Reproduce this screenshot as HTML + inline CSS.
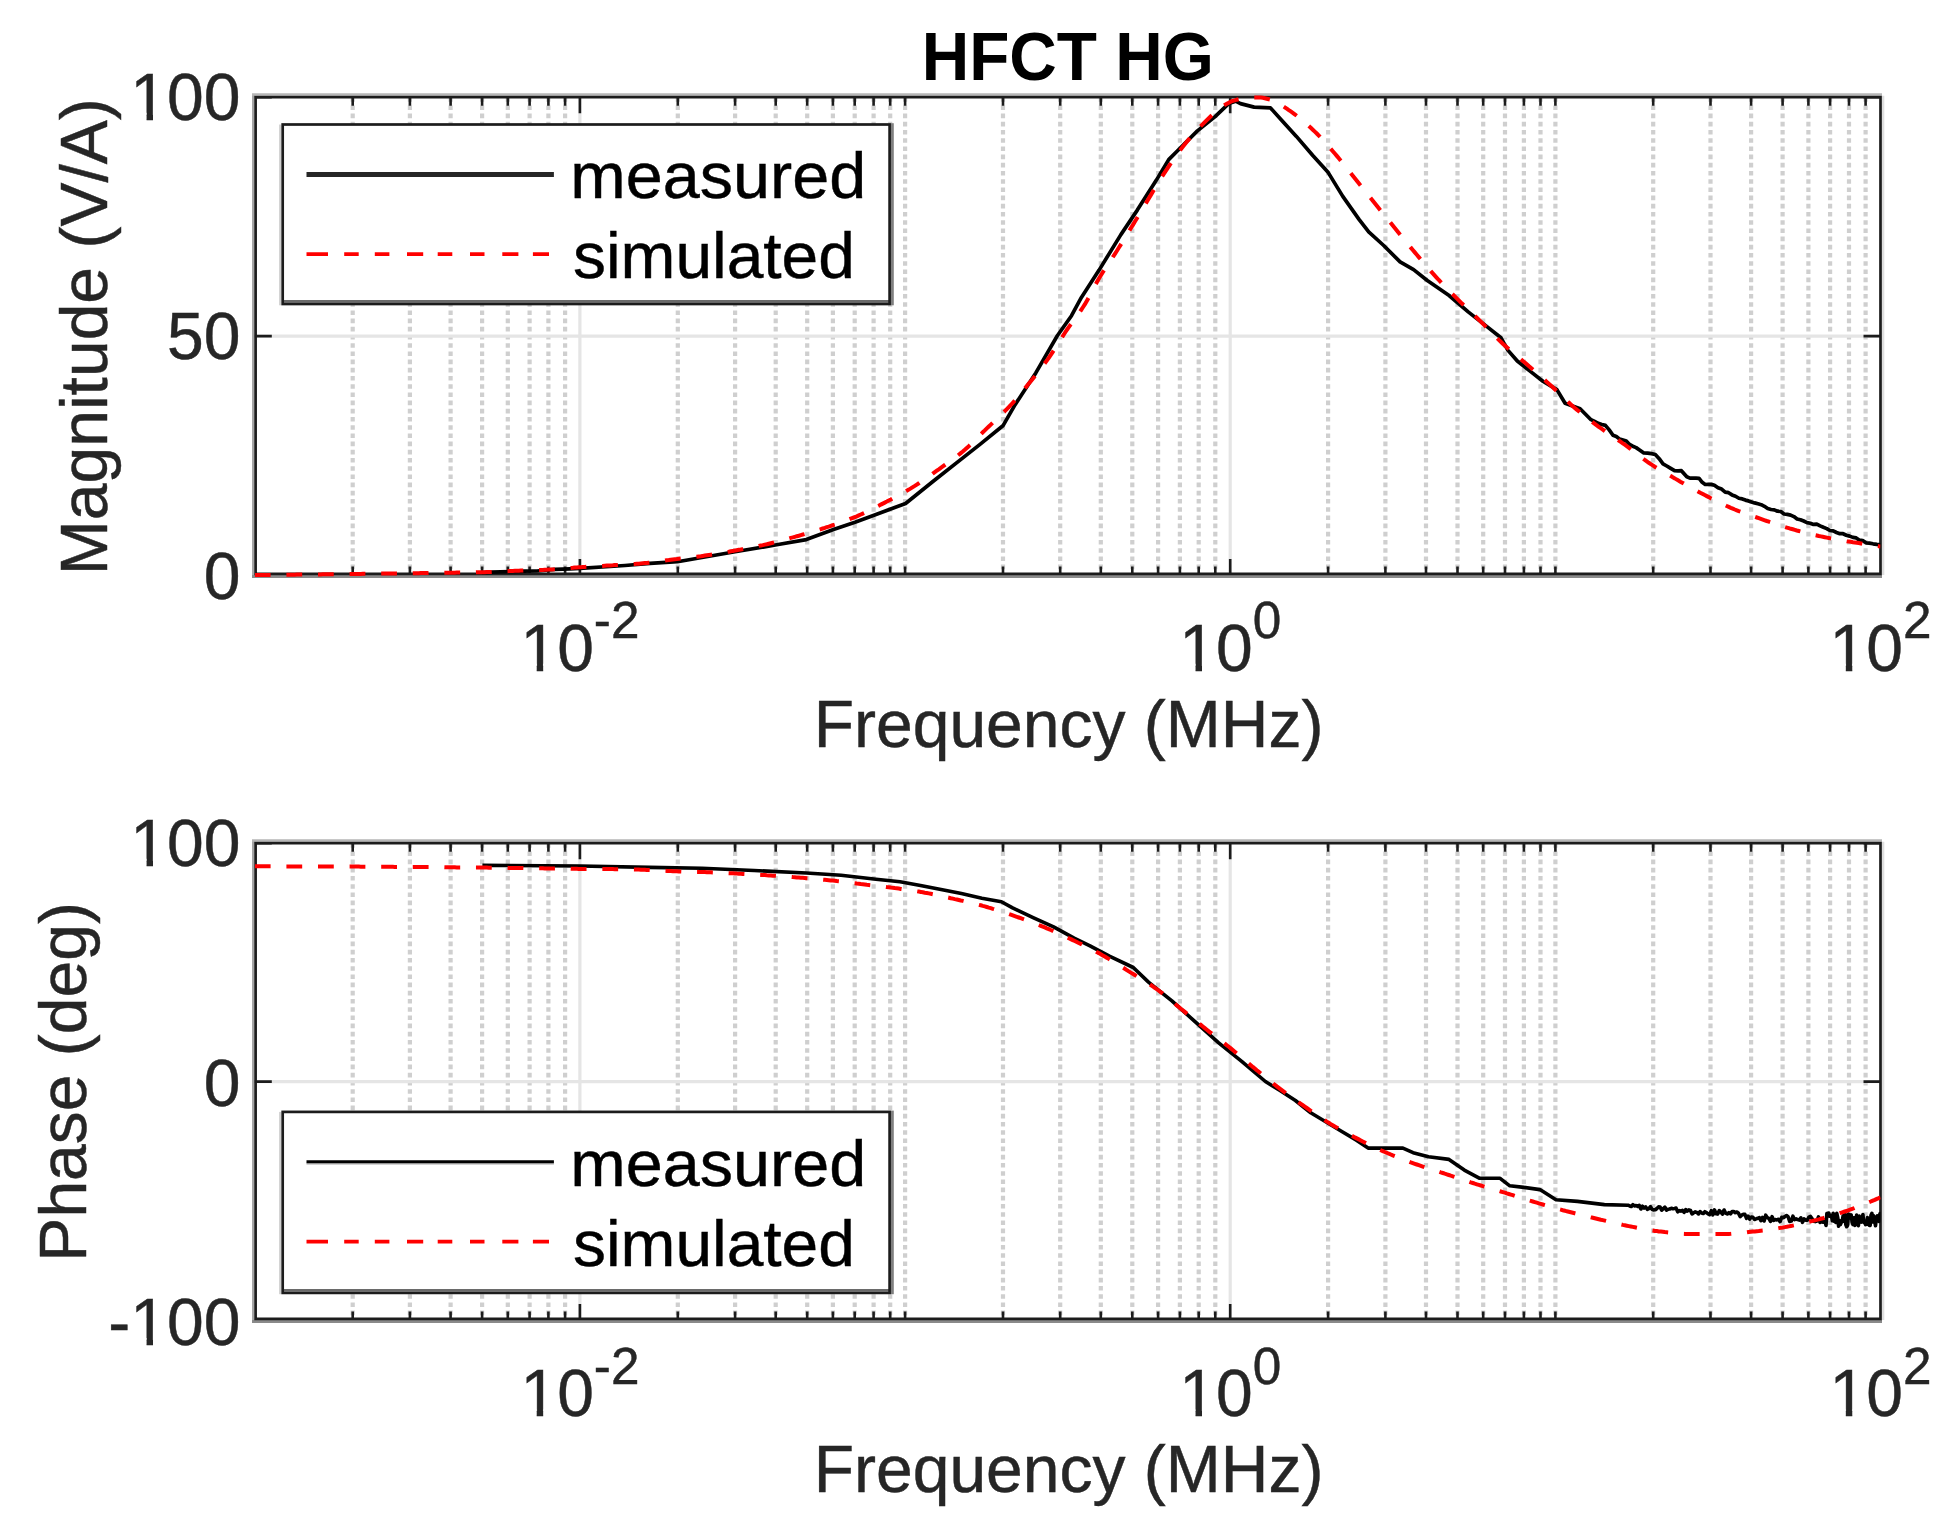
<!DOCTYPE html><html><head><meta charset="utf-8"><title>HFCT HG</title><style>html,body{margin:0;padding:0;background:#fff;}svg{display:block;}text{font-family:'Liberation Sans', Arial, Helvetica, sans-serif;stroke-width:0.45px;}</style></head><body>
<svg width="1953" height="1539" viewBox="0 0 1953 1539">
<rect width="1953" height="1539" fill="#fff"/>
<text x="921.70" y="80.4" font-size="68" font-weight="bold" fill="#000" textLength="292.28" lengthAdjust="spacingAndGlyphs">HFCT HG</text>
<path d="M352.7 97.2V575.0M409.9 97.2V575.0M450.6 97.2V575.0M482.1 97.2V575.0M507.8 97.2V575.0M529.6 97.2V575.0M548.4 97.2V575.0M565.1 97.2V575.0M677.8 97.2V575.0M735.1 97.2V575.0M775.7 97.2V575.0M807.2 97.2V575.0M832.9 97.2V575.0M854.7 97.2V575.0M873.6 97.2V575.0M890.2 97.2V575.0M905.1 97.2V575.0M1003.0 97.2V575.0M1060.2 97.2V575.0M1100.8 97.2V575.0M1132.3 97.2V575.0M1158.1 97.2V575.0M1179.9 97.2V575.0M1198.7 97.2V575.0M1215.3 97.2V575.0M1328.1 97.2V575.0M1385.4 97.2V575.0M1426.0 97.2V575.0M1457.5 97.2V575.0M1483.2 97.2V575.0M1505.0 97.2V575.0M1523.9 97.2V575.0M1540.5 97.2V575.0M1555.4 97.2V575.0M1653.2 97.2V575.0M1710.5 97.2V575.0M1751.1 97.2V575.0M1782.6 97.2V575.0M1808.4 97.2V575.0M1830.1 97.2V575.0M1849.0 97.2V575.0M1865.6 97.2V575.0" stroke="#cfcfcf" stroke-width="4.2" stroke-dasharray="4.6 3.6" fill="none"/>
<path d="M579.9 97.2V575.0M1230.2 97.2V575.0M254.8 336.1H1880.5" stroke="#e5e5e5" stroke-width="3.2" fill="none"/>
<path d="M352.7 575.0v-8.5M352.7 97.2v8.5M409.9 575.0v-8.5M409.9 97.2v8.5M450.6 575.0v-8.5M450.6 97.2v8.5M482.1 575.0v-8.5M482.1 97.2v8.5M507.8 575.0v-8.5M507.8 97.2v8.5M529.6 575.0v-8.5M529.6 97.2v8.5M548.4 575.0v-8.5M548.4 97.2v8.5M565.1 575.0v-8.5M565.1 97.2v8.5M579.9 575.0v-16M579.9 97.2v16M677.8 575.0v-8.5M677.8 97.2v8.5M735.1 575.0v-8.5M735.1 97.2v8.5M775.7 575.0v-8.5M775.7 97.2v8.5M807.2 575.0v-8.5M807.2 97.2v8.5M832.9 575.0v-8.5M832.9 97.2v8.5M854.7 575.0v-8.5M854.7 97.2v8.5M873.6 575.0v-8.5M873.6 97.2v8.5M890.2 575.0v-8.5M890.2 97.2v8.5M905.1 575.0v-8.5M905.1 97.2v8.5M1003.0 575.0v-8.5M1003.0 97.2v8.5M1060.2 575.0v-8.5M1060.2 97.2v8.5M1100.8 575.0v-8.5M1100.8 97.2v8.5M1132.3 575.0v-8.5M1132.3 97.2v8.5M1158.1 575.0v-8.5M1158.1 97.2v8.5M1179.9 575.0v-8.5M1179.9 97.2v8.5M1198.7 575.0v-8.5M1198.7 97.2v8.5M1215.3 575.0v-8.5M1215.3 97.2v8.5M1230.2 575.0v-16M1230.2 97.2v16M1328.1 575.0v-8.5M1328.1 97.2v8.5M1385.4 575.0v-8.5M1385.4 97.2v8.5M1426.0 575.0v-8.5M1426.0 97.2v8.5M1457.5 575.0v-8.5M1457.5 97.2v8.5M1483.2 575.0v-8.5M1483.2 97.2v8.5M1505.0 575.0v-8.5M1505.0 97.2v8.5M1523.9 575.0v-8.5M1523.9 97.2v8.5M1540.5 575.0v-8.5M1540.5 97.2v8.5M1555.4 575.0v-8.5M1555.4 97.2v8.5M1653.2 575.0v-8.5M1653.2 97.2v8.5M1710.5 575.0v-8.5M1710.5 97.2v8.5M1751.1 575.0v-8.5M1751.1 97.2v8.5M1782.6 575.0v-8.5M1782.6 97.2v8.5M1808.4 575.0v-8.5M1808.4 97.2v8.5M1830.1 575.0v-8.5M1830.1 97.2v8.5M1849.0 575.0v-8.5M1849.0 97.2v8.5M1865.6 575.0v-8.5M1865.6 97.2v8.5M254.8 575.0h17M1880.5 575.0h-17M254.8 336.1h17M1880.5 336.1h-17M254.8 97.2h17M1880.5 97.2h-17" stroke="#1c1c1c" stroke-width="2.6" fill="none"/>
<path d="M253.2 94.5V576.5" stroke="#a6a6a6" stroke-width="2.4" fill="none"/>
<path d="M252 94.5H1882" stroke="#b6b6b6" stroke-width="2.6" fill="none"/>
<path d="M252 576.5H1882" stroke="#8a8a8a" stroke-width="2.8" fill="none"/>
<path d="M1883.1 95.8V575.1" stroke="#dedede" stroke-width="2.4" fill="none"/>
<path d="M255.6 97.2H1880.5V573.9H255.6Z" fill="none" stroke="#1c1c1c" stroke-width="2.7"/>
<clipPath id="c0"><rect x="254.8" y="94.2" width="1625.7" height="483.8"/></clipPath>
<g clip-path="url(#c0)">
<polyline points="482.0,572.6 491.0,572.2 524.0,571.1 537.0,571.0 555.0,569.3 570.0,568.8 580.0,568.3 625.0,565.5 650.0,563.4 677.5,561.7 735.0,551.8 776.7,544.8 806.3,539.6 834.2,529.2 855.0,522.2 876.0,514.4 905.6,503.5 932.9,481.5 960.0,460.1 980.0,444.4 1002.9,425.8 1014.4,405.8 1035.8,372.9 1057.3,335.8 1071.5,315.7 1081.4,297.4 1099.1,270.1 1120.9,234.6 1137.3,210.1 1156.4,180.1 1168.7,159.6 1178.3,150.0 1197.4,130.9 1215.1,116.6 1228.7,103.6 1235.6,101.2 1240.5,103.6 1254.1,107.1 1270.5,107.9 1281.4,120.0 1296.4,136.4 1312.8,155.5 1327.8,171.9 1342.8,196.4 1359.2,219.6 1368.7,231.9 1383.7,245.5 1400.1,261.9 1413.6,269.6 1427.3,280.5 1449.1,295.5 1468.2,311.9 1487.3,326.9 1501.0,337.8 1507.8,350.1 1517.3,361.0 1531.0,371.9 1543.2,381.5 1556.9,389.6 1565.1,403.3 1580.1,408.7 1591.0,419.7 1594.6,421.4 1598.2,423.3 1601.8,424.5 1605.4,425.4 1609.2,429.9 1613.0,435.3 1616.3,436.5 1619.7,439.1 1623.0,440.0 1626.3,441.0 1629.5,444.4 1632.8,446.2 1636.1,447.6 1639.9,450.2 1643.8,453.0 1647.6,453.1 1651.5,453.6 1655.3,454.5 1659.2,458.7 1663.0,463.8 1666.8,466.0 1670.7,468.4 1674.5,470.7 1678.0,470.8 1681.4,470.7 1686.8,476.8 1689.9,478.1 1692.9,478.1 1696.0,478.2 1699.1,478.4 1702.2,482.3 1705.2,484.5 1708.3,484.3 1711.3,484.4 1714.4,485.3 1718.0,487.8 1721.6,489.1 1725.2,492.2 1728.6,492.7 1732.0,494.9 1735.5,496.2 1738.9,498.3 1742.3,498.9 1745.4,500.1 1748.4,500.9 1751.5,501.9 1754.6,502.9 1757.9,503.8 1761.2,504.7 1764.4,506.3 1767.7,508.5 1771.0,509.5 1774.3,509.9 1777.5,511.2 1780.8,511.5 1784.0,514.0 1787.3,514.4 1790.6,515.1 1793.9,516.6 1797.1,519.0 1800.4,519.7 1803.7,521.0 1807.0,522.6 1810.3,523.2 1813.5,524.4 1816.8,524.2 1820.1,525.9 1823.4,527.3 1826.7,528.6 1829.9,530.5 1833.2,530.9 1836.5,532.5 1839.8,533.7 1843.1,533.7 1846.3,535.2 1849.6,536.1 1852.9,537.4 1856.2,537.9 1859.5,540.2 1862.7,540.6 1866.0,542.8 1869.3,543.1 1873.0,543.8 1876.8,544.4 1880.5,544.8" fill="none" stroke="#000" stroke-width="3.7" stroke-linejoin="round"/>
<polyline points="254.8,575.0 256.8,575.0 258.8,575.0 260.8,575.0 262.8,574.9 264.8,574.9 266.8,574.9 268.8,574.9 270.8,574.9 272.8,574.9 274.8,574.8 276.8,574.8 278.8,574.8 280.8,574.8 282.8,574.8 284.8,574.7 286.8,574.7 288.8,574.7 290.8,574.7 292.8,574.7 294.8,574.7 296.8,574.6 298.8,574.6 300.8,574.6 302.8,574.6 304.8,574.5 306.8,574.5 308.8,574.5 310.8,574.5 312.8,574.5 314.8,574.4 316.8,574.4 318.8,574.4 320.8,574.4 322.8,574.3 324.8,574.3 326.8,574.3 328.8,574.3 330.8,574.2 332.8,574.2 334.8,574.2 336.8,574.2 338.8,574.1 340.8,574.1 342.8,574.1 344.8,574.1 346.8,574.0 348.8,574.0 350.8,574.0 352.8,574.0 354.8,573.9 356.8,573.9 358.8,573.9 360.8,573.9 362.8,573.8 364.8,573.8 366.8,573.8 368.8,573.8 370.8,573.8 372.8,573.7 374.8,573.7 376.8,573.7 378.8,573.7 380.8,573.6 382.8,573.6 384.8,573.6 386.8,573.6 388.8,573.5 390.8,573.5 392.8,573.5 394.8,573.5 396.8,573.4 398.8,573.4 400.8,573.4 402.8,573.4 404.8,573.3 406.8,573.3 408.8,573.3 410.8,573.3 412.8,573.2 414.8,573.2 416.8,573.2 418.8,573.2 420.8,573.1 422.8,573.1 424.8,573.1 426.8,573.1 428.8,573.0 430.8,573.0 432.8,573.0 434.8,572.9 436.8,572.9 438.8,572.9 440.8,572.9 442.8,572.8 444.8,572.8 446.8,572.8 448.8,572.7 450.8,572.7 452.8,572.7 454.8,572.7 456.8,572.6 458.8,572.6 460.8,572.6 462.8,572.6 464.8,572.5 466.8,572.5 468.8,572.5 470.8,572.4 472.8,572.4 474.8,572.4 476.8,572.3 478.8,572.3 480.8,572.2 482.8,572.2 484.8,572.2 486.8,572.1 488.8,572.0 490.8,572.0 492.8,571.9 494.8,571.8 496.8,571.7 498.8,571.6 500.8,571.5 502.8,571.4 504.8,571.3 506.8,571.2 508.8,571.1 510.8,571.0 512.8,570.9 514.8,570.8 516.8,570.8 518.8,570.7 520.8,570.6 522.8,570.6 524.8,570.5 526.8,570.4 528.8,570.4 530.8,570.3 532.8,570.2 534.8,570.2 536.8,570.1 538.8,570.0 540.8,570.0 542.8,569.9 544.8,569.8 546.8,569.7 548.8,569.6 550.8,569.5 552.8,569.4 554.8,569.2 556.8,569.1 558.8,568.9 560.8,568.8 562.8,568.6 564.8,568.4 566.8,568.3 568.8,568.1 570.8,567.9 572.8,567.8 574.8,567.6 576.8,567.5 578.8,567.3 580.8,567.2 582.8,567.1 584.8,567.0 586.8,566.8 588.8,566.7 590.8,566.6 592.8,566.5 594.8,566.3 596.8,566.2 598.8,566.1 600.8,566.0 602.8,565.9 604.8,565.7 606.8,565.6 608.8,565.5 610.8,565.4 612.8,565.3 614.8,565.1 616.8,565.0 618.8,564.9 620.8,564.8 622.8,564.7 624.8,564.6 626.8,564.5 628.8,564.4 630.8,564.2 632.8,564.1 634.8,564.0 636.8,563.8 638.8,563.7 640.8,563.5 642.8,563.3 644.8,563.1 646.8,562.9 648.8,562.7 650.8,562.5 652.8,562.2 654.8,561.9 656.8,561.7 658.8,561.4 660.8,561.1 662.8,560.8 664.8,560.5 666.8,560.2 668.8,560.0 670.8,559.7 672.8,559.4 674.8,559.2 676.8,559.0 678.8,558.7 680.8,558.5 682.8,558.3 684.8,558.1 686.8,557.8 688.8,557.6 690.8,557.4 692.8,557.2 694.8,556.9 696.8,556.7 698.8,556.4 700.8,556.2 702.8,555.9 704.8,555.6 706.8,555.3 708.8,555.0 710.8,554.7 712.8,554.4 714.8,554.1 716.8,553.8 718.8,553.4 720.8,553.1 722.8,552.7 724.8,552.4 726.8,552.0 728.8,551.7 730.8,551.3 732.8,550.9 734.8,550.6 736.8,550.2 738.8,549.8 740.8,549.5 742.8,549.1 744.8,548.7 746.8,548.3 748.8,548.0 750.8,547.6 752.8,547.2 754.8,546.8 756.8,546.4 758.8,545.9 760.8,545.5 762.8,545.1 764.8,544.6 766.8,544.2 768.8,543.7 770.8,543.2 772.8,542.7 774.8,542.2 776.8,541.7 778.8,541.2 780.8,540.7 782.8,540.1 784.8,539.6 786.8,539.0 788.8,538.5 790.8,537.9 792.8,537.4 794.8,536.8 796.8,536.2 798.8,535.7 800.8,535.1 802.8,534.5 804.8,534.0 806.8,533.4 808.8,532.8 810.8,532.2 812.8,531.6 814.8,531.0 816.8,530.4 818.8,529.8 820.8,529.2 822.8,528.5 824.8,527.9 826.8,527.2 828.8,526.6 830.8,525.9 832.8,525.2 834.8,524.6 836.8,523.9 838.8,523.2 840.8,522.5 842.8,521.7 844.8,521.0 846.8,520.2 848.8,519.5 850.8,518.7 852.8,517.9 854.8,517.1 856.8,516.3 858.8,515.4 860.8,514.5 862.8,513.6 864.8,512.7 866.8,511.7 868.8,510.7 870.8,509.7 872.8,508.7 874.8,507.7 876.8,506.7 878.8,505.7 880.8,504.6 882.8,503.6 884.8,502.6 886.8,501.6 888.8,500.5 890.8,499.5 892.8,498.4 894.8,497.4 896.8,496.3 898.8,495.2 900.8,494.1 902.8,493.0 904.8,491.9 906.8,490.7 908.8,489.6 910.8,488.4 912.8,487.1 914.8,485.9 916.8,484.6 918.8,483.3 920.8,481.9 922.8,480.6 924.8,479.2 926.8,477.8 928.8,476.4 930.8,475.0 932.8,473.5 934.8,472.1 936.8,470.7 938.8,469.3 940.8,467.8 942.8,466.4 944.8,465.0 946.8,463.6 948.8,462.2 950.8,460.7 952.8,459.3 954.8,457.8 956.8,456.3 958.8,454.7 960.8,453.1 962.8,451.5 964.8,449.8 966.8,448.0 968.8,446.2 970.8,444.3 972.8,442.3 974.8,440.4 976.8,438.4 978.8,436.4 980.8,434.3 982.8,432.3 984.8,430.4 986.8,428.4 988.8,426.5 990.8,424.6 992.8,422.7 994.8,420.8 996.8,419.0 998.8,417.1 1000.8,415.2 1002.8,413.2 1004.8,411.2 1006.8,409.2 1008.8,407.1 1010.8,405.0 1012.8,402.8 1014.8,400.5 1016.8,398.2 1018.8,395.8 1020.8,393.4 1022.8,391.0 1024.8,388.6 1026.8,386.1 1028.8,383.6 1030.8,381.2 1032.8,378.7 1034.8,376.2 1036.8,373.7 1038.8,371.1 1040.8,368.6 1042.8,365.9 1044.8,363.3 1046.8,360.6 1048.8,357.8 1050.8,354.9 1052.8,351.8 1054.8,348.7 1056.8,345.6 1058.8,342.4 1060.8,339.2 1062.8,336.1 1064.8,333.0 1066.8,330.0 1068.8,327.2 1070.8,324.4 1072.8,321.7 1074.8,318.9 1076.8,316.2 1078.8,313.4 1080.8,310.5 1082.8,307.5 1084.8,304.4 1086.8,300.9 1088.8,297.3 1090.8,293.6 1092.8,289.8 1094.8,286.0 1096.8,282.3 1098.8,278.8 1100.8,275.5 1102.8,272.3 1104.8,269.2 1106.8,266.2 1108.8,263.2 1110.8,260.2 1112.8,257.2 1114.8,254.1 1116.8,251.0 1118.8,247.8 1120.8,244.6 1122.8,241.4 1124.8,238.2 1126.8,234.9 1128.8,231.6 1130.8,228.3 1132.8,225.1 1134.8,221.8 1136.8,218.4 1138.8,215.1 1140.8,211.8 1142.8,208.4 1144.8,205.1 1146.8,201.7 1148.8,198.4 1150.8,195.1 1152.8,191.8 1154.8,188.5 1156.8,185.2 1158.8,181.9 1160.8,178.6 1162.8,175.4 1164.8,172.3 1166.8,169.3 1168.8,166.3 1170.8,163.4 1172.8,160.5 1174.8,157.6 1176.8,154.8 1178.8,152.1 1180.8,149.4 1182.8,146.8 1184.8,144.3 1186.8,141.8 1188.8,139.4 1190.8,137.1 1192.8,134.8 1194.8,132.5 1196.8,130.3 1198.8,128.2 1200.8,126.1 1202.8,124.1 1204.8,122.1 1206.8,120.1 1208.8,118.2 1210.8,116.3 1212.8,114.4 1214.8,112.5 1216.8,110.7 1218.8,109.1 1220.8,107.5 1222.8,106.1 1224.8,104.9 1226.8,103.7 1228.8,102.7 1230.8,101.7 1232.8,100.9 1234.8,100.3 1236.8,99.7 1238.8,99.2 1240.8,98.8 1242.8,98.4 1244.8,98.1 1246.8,97.9 1248.8,97.7 1250.8,97.6 1252.8,97.5 1254.8,97.5 1256.8,97.4 1258.8,97.4 1260.8,97.6 1262.8,97.8 1264.8,98.2 1266.8,98.7 1268.8,99.2 1270.8,99.7 1272.8,100.4 1274.8,101.3 1276.8,102.3 1278.8,103.4 1280.8,104.6 1282.8,106.0 1284.8,107.3 1286.8,108.7 1288.8,110.1 1290.8,111.4 1292.8,112.8 1294.8,114.3 1296.8,115.8 1298.8,117.4 1300.8,119.0 1302.8,120.7 1304.8,122.4 1306.8,124.2 1308.8,126.0 1310.8,127.8 1312.8,129.7 1314.8,131.6 1316.8,133.5 1318.8,135.6 1320.8,137.7 1322.8,139.8 1324.8,142.0 1326.8,144.3 1328.8,146.6 1330.8,148.9 1332.8,151.2 1334.8,153.5 1336.8,155.9 1338.8,158.3 1340.8,160.7 1342.8,163.2 1344.8,165.7 1346.8,168.2 1348.8,170.8 1350.8,173.3 1352.8,175.8 1354.8,178.3 1356.8,180.8 1358.8,183.3 1360.8,185.8 1362.8,188.3 1364.8,190.8 1366.8,193.3 1368.8,195.7 1370.8,198.2 1372.8,200.7 1374.8,203.2 1376.8,205.7 1378.8,208.2 1380.8,210.7 1382.8,213.2 1384.8,215.7 1386.8,218.1 1388.8,220.6 1390.8,223.1 1392.8,225.6 1394.8,228.0 1396.8,230.5 1398.8,233.0 1400.8,235.4 1402.8,237.9 1404.8,240.3 1406.8,242.7 1408.8,245.2 1410.8,247.6 1412.8,250.0 1414.8,252.4 1416.8,254.7 1418.8,257.1 1420.8,259.5 1422.8,261.9 1424.8,264.2 1426.8,266.6 1428.8,268.9 1430.8,271.2 1432.8,273.4 1434.8,275.6 1436.8,277.8 1438.8,280.0 1440.8,282.1 1442.8,284.2 1444.8,286.3 1446.8,288.3 1448.8,290.4 1450.8,292.4 1452.8,294.4 1454.8,296.4 1456.8,298.4 1458.8,300.4 1460.8,302.4 1462.8,304.3 1464.8,306.3 1466.8,308.2 1468.8,310.1 1470.8,312.0 1472.8,313.9 1474.8,315.9 1476.8,317.8 1478.8,319.7 1480.8,321.7 1482.8,323.7 1484.8,325.7 1486.8,327.7 1488.8,329.8 1490.8,331.8 1492.8,333.9 1494.8,335.9 1496.8,337.9 1498.8,339.9 1500.8,341.8 1502.8,343.7 1504.8,345.5 1506.8,347.3 1508.8,349.0 1510.8,350.7 1512.8,352.4 1514.8,354.1 1516.8,355.8 1518.8,357.5 1520.8,359.2 1522.8,360.9 1524.8,362.6 1526.8,364.3 1528.8,366.1 1530.8,367.8 1532.8,369.5 1534.8,371.3 1536.8,373.0 1538.8,374.8 1540.8,376.6 1542.8,378.3 1544.8,380.1 1546.8,381.9 1548.8,383.7 1550.8,385.5 1552.8,387.3 1554.8,389.2 1556.8,391.1 1558.8,393.1 1560.8,395.0 1562.8,396.9 1564.8,398.9 1566.8,400.7 1568.8,402.6 1570.8,404.4 1572.8,406.2 1574.8,407.9 1576.8,409.6 1578.8,411.2 1580.8,412.9 1582.8,414.5 1584.8,416.1 1586.8,417.7 1588.8,419.3 1590.8,420.8 1592.8,422.3 1594.8,423.8 1596.8,425.3 1598.8,426.8 1600.8,428.2 1602.8,429.6 1604.8,431.0 1606.8,432.4 1608.8,433.7 1610.8,435.1 1612.8,436.4 1614.8,437.8 1616.8,439.2 1618.8,440.5 1620.8,441.9 1622.8,443.3 1624.8,444.7 1626.8,446.2 1628.8,447.7 1630.8,449.3 1632.8,450.8 1634.8,452.4 1636.8,453.9 1638.8,455.5 1640.8,457.0 1642.8,458.5 1644.8,460.0 1646.8,461.4 1648.8,462.8 1650.8,464.1 1652.8,465.4 1654.8,466.7 1656.8,467.9 1658.8,469.1 1660.8,470.3 1662.8,471.5 1664.8,472.7 1666.8,473.8 1668.8,475.0 1670.8,476.1 1672.8,477.3 1674.8,478.4 1676.8,479.6 1678.8,480.7 1680.8,481.9 1682.8,483.0 1684.8,484.2 1686.8,485.3 1688.8,486.4 1690.8,487.5 1692.8,488.7 1694.8,489.8 1696.8,490.8 1698.8,491.9 1700.8,493.0 1702.8,494.0 1704.8,495.1 1706.8,496.1 1708.8,497.1 1710.8,498.2 1712.8,499.2 1714.8,500.2 1716.8,501.2 1718.8,502.2 1720.8,503.1 1722.8,504.1 1724.8,505.0 1726.8,506.0 1728.8,506.9 1730.8,507.8 1732.8,508.6 1734.8,509.5 1736.8,510.3 1738.8,511.1 1740.8,511.8 1742.8,512.6 1744.8,513.3 1746.8,514.0 1748.8,514.8 1750.8,515.5 1752.8,516.1 1754.8,516.8 1756.8,517.5 1758.8,518.2 1760.8,518.9 1762.8,519.6 1764.8,520.3 1766.8,521.0 1768.8,521.6 1770.8,522.3 1772.8,523.0 1774.8,523.7 1776.8,524.4 1778.8,525.0 1780.8,525.7 1782.8,526.3 1784.8,527.0 1786.8,527.6 1788.8,528.2 1790.8,528.8 1792.8,529.3 1794.8,529.9 1796.8,530.5 1798.8,531.0 1800.8,531.5 1802.8,532.1 1804.8,532.6 1806.8,533.1 1808.8,533.6 1810.8,534.1 1812.8,534.6 1814.8,535.1 1816.8,535.5 1818.8,536.0 1820.8,536.4 1822.8,536.8 1824.8,537.2 1826.8,537.6 1828.8,538.0 1830.8,538.4 1832.8,538.7 1834.8,539.1 1836.8,539.5 1838.8,539.8 1840.8,540.2 1842.8,540.5 1844.8,540.8 1846.8,541.2 1848.8,541.5 1850.8,541.8 1852.8,542.2 1854.8,542.5 1856.8,542.8 1858.8,543.1 1860.8,543.4 1862.8,543.8 1864.8,544.1 1866.8,544.4 1868.8,544.7 1870.8,545.0 1872.8,545.3 1874.8,545.6 1876.8,545.9 1878.8,546.2 1880.5,546.4" fill="none" stroke="#ff0000" stroke-width="4.0" stroke-dasharray="15.8 15.8"/>
</g>
<text x="203.69" y="598.7" font-size="66" fill="#262626" stroke="#262626" clip-path="url(#no1base)">0</text>
<text x="166.99" y="359.3" font-size="66" fill="#262626" stroke="#262626" clip-path="url(#no1base)">50</text>
<text x="130.28" y="119.6" font-size="66" fill="#262626" stroke="#262626" clip-path="url(#no1base)">100</text>
<text x="520.43" y="670.6" font-size="66" fill="#262626" stroke="#262626" clip-path="url(#no1base)">10<tspan font-size="51.3" dy="-32.4">-2</tspan></text>
<text x="1179.25" y="670.6" font-size="66" fill="#262626" stroke="#262626" clip-path="url(#no1base)">10<tspan font-size="51.3" dy="-32.4">0</tspan></text>
<text x="1829.53" y="670.6" font-size="66" fill="#262626" stroke="#262626" clip-path="url(#no1base)">10<tspan font-size="51.3" dy="-32.4">2</tspan></text>
<text x="1068.6" y="747.2" font-size="66" fill="#262626" stroke="#262626" text-anchor="middle">Frequency (MHz)</text>
<text transform="translate(107.3,336.70) rotate(-90)" x="0" y="0" font-size="66" fill="#262626" stroke="#262626" text-anchor="middle">Magnitude (V/A)</text>
<rect x="282.7" y="124.5" width="606.9" height="179.5" fill="#fff" stroke="none"/>
<path d="M892.4 123.2V305.3" stroke="#808080" stroke-width="2.8"/>
<path d="M280.2 124.5V305.3" stroke="#d0d0d0" stroke-width="2.2"/>
<path d="M282.7 301.4H889.6" stroke="#6a6a6a" stroke-width="2.6"/>
<rect x="282.7" y="124.5" width="606.9" height="179.5" fill="none" stroke="#1c1c1c" stroke-width="2.7"/>
<path d="M306.5 174.5H553.9" stroke="#262626" stroke-width="5.2"/>
<path d="M306.5 254.2H328M344.2 254.2H358.7M374.8 254.2H389.4M407 254.2H423.2M437.7 254.2H452.3M470 254.2H484.5M502.3 254.2H518.4M532.9 254.2H549" stroke="#ff0000" stroke-width="3.8"/>
<text x="570.38" y="197.7" font-size="65.5" fill="#000" stroke="#000" textLength="295.91" lengthAdjust="spacingAndGlyphs">measured</text>
<text x="572.97" y="277.7" font-size="65.5" fill="#000" stroke="#000" textLength="281.88" lengthAdjust="spacingAndGlyphs">simulated</text>
<path d="M352.7 843.2V1320.0M409.9 843.2V1320.0M450.6 843.2V1320.0M482.1 843.2V1320.0M507.8 843.2V1320.0M529.6 843.2V1320.0M548.4 843.2V1320.0M565.1 843.2V1320.0M677.8 843.2V1320.0M735.1 843.2V1320.0M775.7 843.2V1320.0M807.2 843.2V1320.0M832.9 843.2V1320.0M854.7 843.2V1320.0M873.6 843.2V1320.0M890.2 843.2V1320.0M905.1 843.2V1320.0M1003.0 843.2V1320.0M1060.2 843.2V1320.0M1100.8 843.2V1320.0M1132.3 843.2V1320.0M1158.1 843.2V1320.0M1179.9 843.2V1320.0M1198.7 843.2V1320.0M1215.3 843.2V1320.0M1328.1 843.2V1320.0M1385.4 843.2V1320.0M1426.0 843.2V1320.0M1457.5 843.2V1320.0M1483.2 843.2V1320.0M1505.0 843.2V1320.0M1523.9 843.2V1320.0M1540.5 843.2V1320.0M1555.4 843.2V1320.0M1653.2 843.2V1320.0M1710.5 843.2V1320.0M1751.1 843.2V1320.0M1782.6 843.2V1320.0M1808.4 843.2V1320.0M1830.1 843.2V1320.0M1849.0 843.2V1320.0M1865.6 843.2V1320.0" stroke="#cfcfcf" stroke-width="4.2" stroke-dasharray="4.6 3.6" fill="none"/>
<path d="M579.9 843.2V1320.0M1230.2 843.2V1320.0M254.8 1081.6H1880.5" stroke="#e5e5e5" stroke-width="3.2" fill="none"/>
<path d="M352.7 1320.0v-8.5M352.7 843.2v8.5M409.9 1320.0v-8.5M409.9 843.2v8.5M450.6 1320.0v-8.5M450.6 843.2v8.5M482.1 1320.0v-8.5M482.1 843.2v8.5M507.8 1320.0v-8.5M507.8 843.2v8.5M529.6 1320.0v-8.5M529.6 843.2v8.5M548.4 1320.0v-8.5M548.4 843.2v8.5M565.1 1320.0v-8.5M565.1 843.2v8.5M579.9 1320.0v-16M579.9 843.2v16M677.8 1320.0v-8.5M677.8 843.2v8.5M735.1 1320.0v-8.5M735.1 843.2v8.5M775.7 1320.0v-8.5M775.7 843.2v8.5M807.2 1320.0v-8.5M807.2 843.2v8.5M832.9 1320.0v-8.5M832.9 843.2v8.5M854.7 1320.0v-8.5M854.7 843.2v8.5M873.6 1320.0v-8.5M873.6 843.2v8.5M890.2 1320.0v-8.5M890.2 843.2v8.5M905.1 1320.0v-8.5M905.1 843.2v8.5M1003.0 1320.0v-8.5M1003.0 843.2v8.5M1060.2 1320.0v-8.5M1060.2 843.2v8.5M1100.8 1320.0v-8.5M1100.8 843.2v8.5M1132.3 1320.0v-8.5M1132.3 843.2v8.5M1158.1 1320.0v-8.5M1158.1 843.2v8.5M1179.9 1320.0v-8.5M1179.9 843.2v8.5M1198.7 1320.0v-8.5M1198.7 843.2v8.5M1215.3 1320.0v-8.5M1215.3 843.2v8.5M1230.2 1320.0v-16M1230.2 843.2v16M1328.1 1320.0v-8.5M1328.1 843.2v8.5M1385.4 1320.0v-8.5M1385.4 843.2v8.5M1426.0 1320.0v-8.5M1426.0 843.2v8.5M1457.5 1320.0v-8.5M1457.5 843.2v8.5M1483.2 1320.0v-8.5M1483.2 843.2v8.5M1505.0 1320.0v-8.5M1505.0 843.2v8.5M1523.9 1320.0v-8.5M1523.9 843.2v8.5M1540.5 1320.0v-8.5M1540.5 843.2v8.5M1555.4 1320.0v-8.5M1555.4 843.2v8.5M1653.2 1320.0v-8.5M1653.2 843.2v8.5M1710.5 1320.0v-8.5M1710.5 843.2v8.5M1751.1 1320.0v-8.5M1751.1 843.2v8.5M1782.6 1320.0v-8.5M1782.6 843.2v8.5M1808.4 1320.0v-8.5M1808.4 843.2v8.5M1830.1 1320.0v-8.5M1830.1 843.2v8.5M1849.0 1320.0v-8.5M1849.0 843.2v8.5M1865.6 1320.0v-8.5M1865.6 843.2v8.5M254.8 1320.0h17M1880.5 1320.0h-17M254.8 1081.6h17M1880.5 1081.6h-17M254.8 843.2h17M1880.5 843.2h-17" stroke="#1c1c1c" stroke-width="2.6" fill="none"/>
<path d="M253.2 840.5V1321.5" stroke="#a6a6a6" stroke-width="2.4" fill="none"/>
<path d="M252 840.5H1882" stroke="#b6b6b6" stroke-width="2.6" fill="none"/>
<path d="M252 1321.5H1882" stroke="#8a8a8a" stroke-width="2.8" fill="none"/>
<path d="M1883.1 841.8V1320.1" stroke="#dedede" stroke-width="2.4" fill="none"/>
<path d="M255.6 843.2H1880.5V1318.9H255.6Z" fill="none" stroke="#1c1c1c" stroke-width="2.7"/>
<clipPath id="c1"><rect x="254.8" y="840.2" width="1625.7" height="482.79999999999995"/></clipPath>
<g clip-path="url(#c1)">
<polyline points="482.4,865.4 580.0,866.0 649.6,867.4 701.9,868.3 754.1,870.5 806.3,873.0 841.1,875.2 876.0,879.2 900.0,881.8 920.5,885.4 941.0,889.5 961.4,893.6 981.9,898.2 1001.4,901.7 1012.6,907.9 1033.1,917.6 1053.6,926.8 1074.1,938.1 1090.0,945.8 1109.9,956.4 1133.3,967.5 1148.5,982.1 1171.9,1000.8 1195.3,1021.9 1218.7,1042.9 1242.0,1061.6 1265.4,1081.5 1280.0,1090.5 1295.4,1100.5 1310.7,1112.8 1326.1,1122.0 1341.4,1131.2 1356.8,1140.4 1368.1,1148.1 1382.4,1148.1 1402.9,1148.1 1413.1,1152.7 1428.5,1156.8 1449.0,1159.4 1464.3,1170.1 1479.7,1178.3 1500.1,1178.3 1509.8,1185.8 1523.8,1187.4 1539.9,1189.6 1556.0,1199.8 1577.5,1201.4 1604.4,1204.6 1628.1,1205.2 1629.7,1206.0 1631.3,1206.5 1632.9,1204.6 1634.5,1206.0 1636.1,1205.5 1637.7,1206.4 1639.3,1205.4 1640.9,1209.0 1642.5,1206.2 1644.1,1208.2 1645.7,1206.9 1647.3,1209.3 1648.9,1208.6 1650.5,1206.6 1652.1,1209.5 1653.7,1209.9 1655.3,1209.8 1656.9,1208.5 1658.5,1206.9 1660.1,1207.1 1661.7,1210.1 1663.3,1208.6 1664.9,1207.2 1666.5,1210.1 1668.1,1209.2 1669.7,1209.0 1671.3,1208.3 1672.9,1208.8 1674.5,1208.5 1676.1,1208.1 1677.7,1211.8 1679.3,1210.6 1680.9,1211.1 1682.5,1210.4 1684.1,1212.3 1685.7,1209.6 1687.3,1211.1 1688.9,1209.9 1690.5,1210.4 1692.1,1213.9 1693.7,1212.8 1695.3,1211.9 1696.9,1212.4 1698.5,1213.9 1700.1,1211.6 1701.7,1213.0 1703.3,1213.5 1704.9,1211.7 1706.5,1212.6 1708.1,1213.9 1709.7,1214.6 1711.3,1210.7 1712.9,1214.8 1714.5,1209.9 1716.1,1213.8 1717.7,1214.1 1719.3,1210.6 1720.9,1212.1 1722.5,1214.1 1724.1,1210.0 1725.7,1213.2 1727.3,1214.0 1728.9,1212.7 1730.5,1213.9 1732.1,1211.5 1733.7,1211.6 1735.3,1212.7 1736.9,1212.0 1738.5,1213.2 1740.1,1216.6 1741.7,1215.1 1743.3,1214.3 1744.9,1214.4 1746.5,1218.3 1748.1,1216.1 1749.7,1219.1 1751.3,1217.0 1752.9,1217.3 1754.5,1219.5 1756.1,1218.9 1757.7,1218.3 1759.3,1217.6 1760.9,1220.6 1762.5,1217.5 1764.1,1221.0 1765.7,1215.2 1767.3,1217.7 1768.9,1218.4 1770.5,1221.3 1772.1,1216.6 1773.7,1220.4 1775.3,1219.6 1776.9,1219.9 1778.5,1219.3 1780.1,1221.6 1781.7,1217.3 1783.3,1217.8 1784.9,1216.5 1786.5,1215.6 1788.1,1216.7 1789.7,1221.5 1791.3,1221.1 1792.9,1216.2 1794.5,1219.6 1796.1,1218.8 1797.7,1219.6 1799.3,1220.1 1800.9,1217.8 1802.5,1222.3 1804.1,1218.9 1805.7,1220.1 1807.3,1220.2 1808.9,1217.1 1810.5,1216.4 1812.1,1218.8 1813.7,1221.2 1815.3,1221.6 1816.9,1221.1 1818.5,1216.9 1820.1,1222.4 1821.7,1221.7 1823.3,1222.2 1824.9,1219.8 1826.0,1225.5 1826.9,1213.4 1827.8,1213.2 1828.7,1213.1 1829.6,1216.3 1830.5,1216.3 1831.4,1215.5 1832.3,1220.8 1833.2,1213.4 1834.1,1221.2 1835.0,1215.3 1835.9,1222.5 1836.8,1213.3 1837.7,1217.4 1838.6,1226.2 1839.5,1220.6 1840.4,1224.5 1841.3,1222.4 1842.2,1221.7 1843.1,1215.9 1844.0,1221.3 1844.9,1213.8 1845.8,1224.5 1846.7,1226.7 1847.6,1225.2 1848.5,1214.0 1849.4,1218.0 1850.3,1217.8 1851.2,1214.9 1852.1,1222.1 1853.0,1224.5 1853.9,1217.7 1854.8,1225.4 1855.7,1224.4 1856.6,1215.1 1857.5,1224.0 1858.4,1225.6 1859.3,1216.0 1860.2,1221.2 1861.1,1222.1 1862.0,1221.7 1862.9,1214.5 1863.8,1222.4 1864.7,1222.0 1865.6,1224.6 1866.5,1224.3 1867.4,1217.6 1868.3,1223.2 1869.2,1225.2 1870.1,1225.5 1871.0,1215.2 1871.9,1213.3 1872.8,1222.0 1873.7,1215.8 1874.6,1220.6 1875.5,1225.8 1876.4,1217.8 1877.3,1215.9 1878.2,1218.7 1879.1,1221.4 1880.0,1213.5 1880.5,1219.0" fill="none" stroke="#000" stroke-width="3.6" stroke-linejoin="round"/>
<polyline points="254.8,866.3 256.8,866.3 258.8,866.3 260.8,866.3 262.8,866.3 264.8,866.3 266.8,866.3 268.8,866.3 270.8,866.3 272.8,866.3 274.8,866.3 276.8,866.3 278.8,866.3 280.8,866.4 282.8,866.4 284.8,866.4 286.8,866.4 288.8,866.4 290.8,866.4 292.8,866.4 294.8,866.4 296.8,866.4 298.8,866.4 300.8,866.4 302.8,866.4 304.8,866.4 306.8,866.4 308.8,866.4 310.8,866.4 312.8,866.4 314.8,866.5 316.8,866.5 318.8,866.5 320.8,866.5 322.8,866.5 324.8,866.5 326.8,866.5 328.8,866.5 330.8,866.5 332.8,866.5 334.8,866.5 336.8,866.5 338.8,866.6 340.8,866.6 342.8,866.6 344.8,866.6 346.8,866.6 348.8,866.6 350.8,866.6 352.8,866.6 354.8,866.6 356.8,866.6 358.8,866.6 360.8,866.7 362.8,866.7 364.8,866.7 366.8,866.7 368.8,866.7 370.8,866.7 372.8,866.7 374.8,866.7 376.8,866.7 378.8,866.8 380.8,866.8 382.8,866.8 384.8,866.8 386.8,866.8 388.8,866.8 390.8,866.8 392.8,866.8 394.8,866.9 396.8,866.9 398.8,866.9 400.8,866.9 402.8,866.9 404.8,866.9 406.8,867.0 408.8,867.0 410.8,867.0 412.8,867.0 414.8,867.0 416.8,867.0 418.8,867.0 420.8,867.1 422.8,867.1 424.8,867.1 426.8,867.1 428.8,867.1 430.8,867.1 432.8,867.2 434.8,867.2 436.8,867.2 438.8,867.2 440.8,867.2 442.8,867.2 444.8,867.3 446.8,867.3 448.8,867.3 450.8,867.3 452.8,867.3 454.8,867.3 456.8,867.4 458.8,867.4 460.8,867.4 462.8,867.4 464.8,867.4 466.8,867.4 468.8,867.5 470.8,867.5 472.8,867.5 474.8,867.5 476.8,867.5 478.8,867.6 480.8,867.6 482.8,867.6 484.8,867.6 486.8,867.6 488.8,867.7 490.8,867.7 492.8,867.7 494.8,867.7 496.8,867.7 498.8,867.8 500.8,867.8 502.8,867.8 504.8,867.8 506.8,867.8 508.8,867.9 510.8,867.9 512.8,867.9 514.8,867.9 516.8,868.0 518.8,868.0 520.8,868.0 522.8,868.0 524.8,868.1 526.8,868.1 528.8,868.1 530.8,868.1 532.8,868.2 534.8,868.2 536.8,868.2 538.8,868.3 540.8,868.3 542.8,868.3 544.8,868.4 546.8,868.4 548.8,868.4 550.8,868.5 552.8,868.5 554.8,868.5 556.8,868.5 558.8,868.6 560.8,868.6 562.8,868.6 564.8,868.7 566.8,868.7 568.8,868.7 570.8,868.8 572.8,868.8 574.8,868.8 576.8,868.8 578.8,868.9 580.8,868.9 582.8,868.9 584.8,868.9 586.8,868.9 588.8,868.9 590.8,869.0 592.8,869.0 594.8,869.0 596.8,869.0 598.8,869.0 600.8,869.0 602.8,869.0 604.8,869.0 606.8,869.1 608.8,869.1 610.8,869.1 612.8,869.1 614.8,869.2 616.8,869.2 618.8,869.2 620.8,869.2 622.8,869.3 624.8,869.3 626.8,869.4 628.8,869.4 630.8,869.4 632.8,869.5 634.8,869.5 636.8,869.6 638.8,869.6 640.8,869.7 642.8,869.8 644.8,869.8 646.8,869.9 648.8,870.0 650.8,870.1 652.8,870.2 654.8,870.3 656.8,870.4 658.8,870.5 660.8,870.6 662.8,870.7 664.8,870.8 666.8,870.9 668.8,871.0 670.8,871.1 672.8,871.2 674.8,871.2 676.8,871.3 678.8,871.4 680.8,871.4 682.8,871.5 684.8,871.5 686.8,871.6 688.8,871.6 690.8,871.7 692.8,871.7 694.8,871.8 696.8,871.9 698.8,871.9 700.8,872.0 702.8,872.0 704.8,872.1 706.8,872.2 708.8,872.3 710.8,872.3 712.8,872.4 714.8,872.5 716.8,872.6 718.8,872.7 720.8,872.8 722.8,872.9 724.8,873.0 726.8,873.1 728.8,873.2 730.8,873.3 732.8,873.3 734.8,873.4 736.8,873.6 738.8,873.7 740.8,873.8 742.8,873.9 744.8,874.0 746.8,874.1 748.8,874.2 750.8,874.3 752.8,874.4 754.8,874.5 756.8,874.7 758.8,874.8 760.8,874.9 762.8,875.0 764.8,875.1 766.8,875.3 768.8,875.4 770.8,875.5 772.8,875.7 774.8,875.8 776.8,875.9 778.8,876.1 780.8,876.2 782.8,876.3 784.8,876.5 786.8,876.6 788.8,876.8 790.8,876.9 792.8,877.1 794.8,877.2 796.8,877.4 798.8,877.5 800.8,877.7 802.8,877.8 804.8,878.0 806.8,878.2 808.8,878.3 810.8,878.5 812.8,878.7 814.8,878.9 816.8,879.1 818.8,879.2 820.8,879.4 822.8,879.6 824.8,879.8 826.8,880.0 828.8,880.2 830.8,880.4 832.8,880.6 834.8,880.8 836.8,881.1 838.8,881.3 840.8,881.5 842.8,881.8 844.8,882.0 846.8,882.3 848.8,882.5 850.8,882.8 852.8,883.1 854.8,883.3 856.8,883.6 858.8,883.8 860.8,884.1 862.8,884.3 864.8,884.5 866.8,884.8 868.8,885.0 870.8,885.2 872.8,885.4 874.8,885.7 876.8,885.9 878.8,886.1 880.8,886.4 882.8,886.6 884.8,886.8 886.8,887.1 888.8,887.3 890.8,887.6 892.8,887.8 894.8,888.1 896.8,888.3 898.8,888.6 900.8,888.9 902.8,889.2 904.8,889.4 906.8,889.7 908.8,890.0 910.8,890.3 912.8,890.6 914.8,890.9 916.8,891.3 918.8,891.6 920.8,891.9 922.8,892.3 924.8,892.7 926.8,893.0 928.8,893.4 930.8,893.8 932.8,894.2 934.8,894.6 936.8,895.1 938.8,895.5 940.8,895.9 942.8,896.4 944.8,896.8 946.8,897.3 948.8,897.7 950.8,898.2 952.8,898.6 954.8,899.1 956.8,899.5 958.8,900.0 960.8,900.5 962.8,900.9 964.8,901.4 966.8,901.9 968.8,902.3 970.8,902.8 972.8,903.3 974.8,903.8 976.8,904.3 978.8,904.8 980.8,905.3 982.8,905.9 984.8,906.4 986.8,907.0 988.8,907.6 990.8,908.1 992.8,908.8 994.8,909.4 996.8,910.0 998.8,910.7 1000.8,911.3 1002.8,912.0 1004.8,912.6 1006.8,913.3 1008.8,914.0 1010.8,914.7 1012.8,915.4 1014.8,916.1 1016.8,916.8 1018.8,917.5 1020.8,918.2 1022.8,919.0 1024.8,919.7 1026.8,920.4 1028.8,921.2 1030.8,921.9 1032.8,922.7 1034.8,923.5 1036.8,924.2 1038.8,925.0 1040.8,925.8 1042.8,926.6 1044.8,927.4 1046.8,928.3 1048.8,929.1 1050.8,930.0 1052.8,930.8 1054.8,931.7 1056.8,932.6 1058.8,933.5 1060.8,934.4 1062.8,935.4 1064.8,936.3 1066.8,937.2 1068.8,938.2 1070.8,939.1 1072.8,940.1 1074.8,941.0 1076.8,942.0 1078.8,943.0 1080.8,943.9 1082.8,944.9 1084.8,945.9 1086.8,946.9 1088.8,947.9 1090.8,948.9 1092.8,949.9 1094.8,951.0 1096.8,952.1 1098.8,953.1 1100.8,954.2 1102.8,955.4 1104.8,956.5 1106.8,957.7 1108.8,958.9 1110.8,960.1 1112.8,961.3 1114.8,962.6 1116.8,963.8 1118.8,965.1 1120.8,966.3 1122.8,967.6 1124.8,968.8 1126.8,970.1 1128.8,971.4 1130.8,972.6 1132.8,973.8 1134.8,975.0 1136.8,976.3 1138.8,977.5 1140.8,978.7 1142.8,979.9 1144.8,981.2 1146.8,982.4 1148.8,983.7 1150.8,985.0 1152.8,986.4 1154.8,987.8 1156.8,989.2 1158.8,990.6 1160.8,992.2 1162.8,993.7 1164.8,995.3 1166.8,997.0 1168.8,998.6 1170.8,1000.3 1172.8,1002.0 1174.8,1003.7 1176.8,1005.4 1178.8,1007.0 1180.8,1008.7 1182.8,1010.3 1184.8,1011.9 1186.8,1013.6 1188.8,1015.2 1190.8,1016.8 1192.8,1018.4 1194.8,1020.1 1196.8,1021.7 1198.8,1023.3 1200.8,1024.9 1202.8,1026.5 1204.8,1028.1 1206.8,1029.7 1208.8,1031.3 1210.8,1032.8 1212.8,1034.4 1214.8,1035.9 1216.8,1037.4 1218.8,1039.0 1220.8,1040.5 1222.8,1042.1 1224.8,1043.6 1226.8,1045.2 1228.8,1046.8 1230.8,1048.4 1232.8,1050.0 1234.8,1051.7 1236.8,1053.4 1238.8,1055.1 1240.8,1056.7 1242.8,1058.4 1244.8,1060.1 1246.8,1061.8 1248.8,1063.5 1250.8,1065.2 1252.8,1066.9 1254.8,1068.5 1256.8,1070.2 1258.8,1071.8 1260.8,1073.5 1262.8,1075.1 1264.8,1076.8 1266.8,1078.4 1268.8,1080.0 1270.8,1081.6 1272.8,1083.2 1274.8,1084.8 1276.8,1086.4 1278.8,1087.9 1280.8,1089.4 1282.8,1090.9 1284.8,1092.4 1286.8,1093.9 1288.8,1095.3 1290.8,1096.8 1292.8,1098.2 1294.8,1099.6 1296.8,1101.0 1298.8,1102.4 1300.8,1103.8 1302.8,1105.2 1304.8,1106.6 1306.8,1108.0 1308.8,1109.4 1310.8,1110.8 1312.8,1112.2 1314.8,1113.6 1316.8,1114.9 1318.8,1116.3 1320.8,1117.7 1322.8,1119.0 1324.8,1120.3 1326.8,1121.6 1328.8,1122.8 1330.8,1124.1 1332.8,1125.3 1334.8,1126.4 1336.8,1127.6 1338.8,1128.7 1340.8,1129.9 1342.8,1131.0 1344.8,1132.1 1346.8,1133.1 1348.8,1134.2 1350.8,1135.3 1352.8,1136.3 1354.8,1137.4 1356.8,1138.4 1358.8,1139.4 1360.8,1140.4 1362.8,1141.5 1364.8,1142.5 1366.8,1143.5 1368.8,1144.5 1370.8,1145.4 1372.8,1146.4 1374.8,1147.4 1376.8,1148.3 1378.8,1149.3 1380.8,1150.2 1382.8,1151.1 1384.8,1152.0 1386.8,1152.8 1388.8,1153.7 1390.8,1154.5 1392.8,1155.4 1394.8,1156.2 1396.8,1157.0 1398.8,1157.8 1400.8,1158.6 1402.8,1159.4 1404.8,1160.1 1406.8,1160.9 1408.8,1161.6 1410.8,1162.4 1412.8,1163.1 1414.8,1163.8 1416.8,1164.5 1418.8,1165.2 1420.8,1165.9 1422.8,1166.6 1424.8,1167.3 1426.8,1167.9 1428.8,1168.6 1430.8,1169.2 1432.8,1169.8 1434.8,1170.5 1436.8,1171.1 1438.8,1171.7 1440.8,1172.4 1442.8,1173.0 1444.8,1173.7 1446.8,1174.3 1448.8,1175.0 1450.8,1175.7 1452.8,1176.3 1454.8,1177.0 1456.8,1177.7 1458.8,1178.4 1460.8,1179.0 1462.8,1179.7 1464.8,1180.4 1466.8,1181.1 1468.8,1181.7 1470.8,1182.4 1472.8,1183.0 1474.8,1183.7 1476.8,1184.3 1478.8,1184.9 1480.8,1185.5 1482.8,1186.1 1484.8,1186.7 1486.8,1187.3 1488.8,1187.9 1490.8,1188.5 1492.8,1189.1 1494.8,1189.7 1496.8,1190.3 1498.8,1190.9 1500.8,1191.5 1502.8,1192.1 1504.8,1192.7 1506.8,1193.4 1508.8,1194.0 1510.8,1194.6 1512.8,1195.2 1514.8,1195.9 1516.8,1196.5 1518.8,1197.1 1520.8,1197.8 1522.8,1198.4 1524.8,1199.0 1526.8,1199.7 1528.8,1200.3 1530.8,1200.9 1532.8,1201.5 1534.8,1202.1 1536.8,1202.7 1538.8,1203.3 1540.8,1203.9 1542.8,1204.5 1544.8,1205.1 1546.8,1205.7 1548.8,1206.2 1550.8,1206.8 1552.8,1207.4 1554.8,1208.0 1556.8,1208.5 1558.8,1209.1 1560.8,1209.6 1562.8,1210.2 1564.8,1210.7 1566.8,1211.3 1568.8,1211.8 1570.8,1212.3 1572.8,1212.8 1574.8,1213.3 1576.8,1213.8 1578.8,1214.3 1580.8,1214.8 1582.8,1215.3 1584.8,1215.8 1586.8,1216.3 1588.8,1216.8 1590.8,1217.3 1592.8,1217.7 1594.8,1218.2 1596.8,1218.7 1598.8,1219.2 1600.8,1219.7 1602.8,1220.1 1604.8,1220.6 1606.8,1221.1 1608.8,1221.6 1610.8,1222.1 1612.8,1222.6 1614.8,1223.1 1616.8,1223.5 1618.8,1224.0 1620.8,1224.4 1622.8,1224.9 1624.8,1225.3 1626.8,1225.7 1628.8,1226.1 1630.8,1226.5 1632.8,1226.9 1634.8,1227.3 1636.8,1227.7 1638.8,1228.1 1640.8,1228.5 1642.8,1228.9 1644.8,1229.2 1646.8,1229.6 1648.8,1229.9 1650.8,1230.3 1652.8,1230.6 1654.8,1230.9 1656.8,1231.1 1658.8,1231.4 1660.8,1231.6 1662.8,1231.8 1664.8,1232.1 1666.8,1232.3 1668.8,1232.5 1670.8,1232.7 1672.8,1233.0 1674.8,1233.2 1676.8,1233.4 1678.8,1233.5 1680.8,1233.7 1682.8,1233.8 1684.8,1233.9 1686.8,1234.0 1688.8,1234.1 1690.8,1234.1 1692.8,1234.1 1694.8,1234.1 1696.8,1234.1 1698.8,1234.1 1700.8,1234.1 1702.8,1234.1 1704.8,1234.1 1706.8,1234.1 1708.8,1234.1 1710.8,1234.1 1712.8,1234.1 1714.8,1234.1 1716.8,1234.1 1718.8,1234.1 1720.8,1234.1 1722.8,1234.1 1724.8,1234.1 1726.8,1234.0 1728.8,1233.9 1730.8,1233.8 1732.8,1233.6 1734.8,1233.5 1736.8,1233.3 1738.8,1233.1 1740.8,1232.9 1742.8,1232.7 1744.8,1232.5 1746.8,1232.3 1748.8,1232.0 1750.8,1231.8 1752.8,1231.6 1754.8,1231.4 1756.8,1231.2 1758.8,1231.0 1760.8,1230.7 1762.8,1230.5 1764.8,1230.2 1766.8,1229.9 1768.8,1229.7 1770.8,1229.4 1772.8,1229.1 1774.8,1228.8 1776.8,1228.5 1778.8,1228.1 1780.8,1227.8 1782.8,1227.5 1784.8,1227.1 1786.8,1226.8 1788.8,1226.4 1790.8,1226.0 1792.8,1225.6 1794.8,1225.2 1796.8,1224.8 1798.8,1224.3 1800.8,1223.9 1802.8,1223.4 1804.8,1222.9 1806.8,1222.4 1808.8,1221.9 1810.8,1221.4 1812.8,1220.9 1814.8,1220.4 1816.8,1219.9 1818.8,1219.4 1820.8,1218.8 1822.8,1218.3 1824.8,1217.7 1826.8,1217.1 1828.8,1216.6 1830.8,1216.0 1832.8,1215.4 1834.8,1214.8 1836.8,1214.1 1838.8,1213.5 1840.8,1212.8 1842.8,1212.2 1844.8,1211.5 1846.8,1210.8 1848.8,1210.1 1850.8,1209.4 1852.8,1208.7 1854.8,1207.9 1856.8,1207.1 1858.8,1206.4 1860.8,1205.6 1862.8,1204.8 1864.8,1203.9 1866.8,1203.1 1868.8,1202.3 1870.8,1201.5 1872.8,1200.6 1874.8,1199.8 1876.8,1198.9 1878.8,1198.1 1880.5,1197.3" fill="none" stroke="#ff0000" stroke-width="4.0" stroke-dasharray="15.8 15.8"/>
</g>
<text x="108.30" y="1345.0" font-size="66" fill="#262626" stroke="#262626" clip-path="url(#no1base)">-100</text>
<text x="203.69" y="1105.5" font-size="66" fill="#262626" stroke="#262626" clip-path="url(#no1base)">0</text>
<text x="130.28" y="865.8" font-size="66" fill="#262626" stroke="#262626" clip-path="url(#no1base)">100</text>
<text x="520.43" y="1416.4" font-size="66" fill="#262626" stroke="#262626" clip-path="url(#no1base)">10<tspan font-size="51.3" dy="-32.4">-2</tspan></text>
<text x="1179.25" y="1416.4" font-size="66" fill="#262626" stroke="#262626" clip-path="url(#no1base)">10<tspan font-size="51.3" dy="-32.4">0</tspan></text>
<text x="1829.53" y="1416.4" font-size="66" fill="#262626" stroke="#262626" clip-path="url(#no1base)">10<tspan font-size="51.3" dy="-32.4">2</tspan></text>
<text x="1068.6" y="1492.2" font-size="66" fill="#262626" stroke="#262626" text-anchor="middle">Frequency (MHz)</text>
<text transform="translate(86.3,1081.85) rotate(-90)" x="0" y="0" font-size="66" fill="#262626" stroke="#262626" text-anchor="middle">Phase (deg)</text>
<rect x="282.7" y="1111.9" width="606.9" height="181.0" fill="#fff" stroke="none"/>
<path d="M892.4 1110.6V1294.2" stroke="#808080" stroke-width="2.8"/>
<path d="M280.2 1111.9V1294.2" stroke="#d0d0d0" stroke-width="2.2"/>
<path d="M282.7 1290.3H889.6" stroke="#6a6a6a" stroke-width="2.6"/>
<rect x="282.7" y="1111.9" width="606.9" height="181.0" fill="none" stroke="#1c1c1c" stroke-width="2.7"/>
<path d="M306.5 1163.7H553.9" stroke="#c4c4c4" stroke-width="2.2"/>
<path d="M306.5 1161.7H553.9" stroke="#000" stroke-width="2.9"/>
<path d="M306.5 1241.6H328M344.2 1241.6H358.7M374.8 1241.6H389.4M407 1241.6H423.2M437.7 1241.6H452.3M470 1241.6H484.5M502.3 1241.6H518.4M532.9 1241.6H549" stroke="#ff0000" stroke-width="3.8"/>
<text x="570.38" y="1186.3" font-size="65.5" fill="#000" stroke="#000" textLength="295.91" lengthAdjust="spacingAndGlyphs">measured</text>
<text x="572.97" y="1266.0" font-size="65.5" fill="#000" stroke="#000" textLength="281.88" lengthAdjust="spacingAndGlyphs">simulated</text>
<defs><clipPath id="no1base"><path clip-rule="evenodd" d="M0 0H1953V1539H0ZM133.81 112.67H146.58V122.60H133.81ZM153.01 112.67H165.27V122.60H153.01ZM523.95 663.67H536.72V673.60H523.95ZM543.16 663.67H555.41V673.60H543.16ZM1182.78 663.67H1195.55V673.60H1182.78ZM1201.98 663.67H1214.23V673.60H1201.98ZM1833.06 663.67H1845.83V673.60H1833.06ZM1852.26 663.67H1864.51V673.60H1852.26ZM133.81 1338.07H146.58V1348.00H133.81ZM153.01 1338.07H165.27V1348.00H153.01ZM133.81 858.87H146.58V868.80H133.81ZM153.01 858.87H165.27V868.80H153.01ZM523.95 1409.47H536.72V1419.40H523.95ZM543.16 1409.47H555.41V1419.40H543.16ZM1182.78 1409.47H1195.55V1419.40H1182.78ZM1201.98 1409.47H1214.23V1419.40H1201.98ZM1833.06 1409.47H1845.83V1419.40H1833.06ZM1852.26 1409.47H1864.51V1419.40H1852.26Z"/></clipPath></defs>
</svg></body></html>
